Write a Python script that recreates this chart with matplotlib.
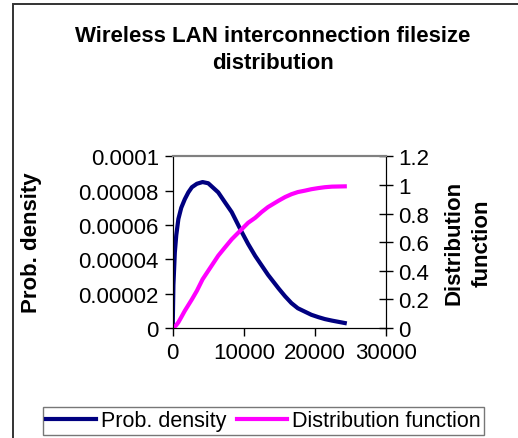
import matplotlib
matplotlib.use("Agg")
import matplotlib.pyplot as plt
from matplotlib.patches import Rectangle

plt.rcParams['font.family'] = ['Liberation Sans', 'DejaVu Sans']

# file size (bytes) and the two curves read along it
filesize = [0, 100, 300, 500, 800, 1200, 1700, 2200, 2700, 3400, 4200, 5000,
            6400, 7300, 8300, 9700, 10600, 11600, 12500, 13400, 14900, 15800,
            16700, 17600, 18600, 19500, 20500, 21400, 22400, 23300, 24200]
prob_density = [0, 2.5e-5, 4.4e-5, 5.4e-5, 6.35e-5, 7.0e-5, 7.5e-5, 7.9e-5,
                8.2e-5, 8.4e-5, 8.5e-5, 8.43e-5, 7.9e-5, 7.35e-5, 6.75e-5,
                5.6e-5, 4.9e-5, 4.2e-5, 3.65e-5, 3.1e-5, 2.3e-5, 1.85e-5,
                1.45e-5, 1.15e-5, 0.95e-5, 0.77e-5, 0.63e-5, 0.52e-5,
                0.43e-5, 0.36e-5, 0.29e-5]
distribution = [0, 0.003, 0.01, 0.02, 0.04, 0.075, 0.12, 0.16, 0.2, 0.26,
                0.34, 0.40, 0.505, 0.56, 0.62, 0.69, 0.735, 0.77, 0.81,
                0.845, 0.89, 0.915, 0.935, 0.95, 0.96, 0.97, 0.978, 0.984,
                0.988, 0.989, 0.99]

x_ticks = [0, 10000, 20000, 30000]
left_ticks = [0, 0.00002, 0.00004, 0.00006, 0.00008, 0.0001]
left_labels = ["0", "0.00002", "0.00004", "0.00006", "0.00008", "0.0001"]
right_ticks = [0, 0.2, 0.4, 0.6, 0.8, 1.0, 1.2]
right_labels = ["0", "0.2", "0.4", "0.6", "0.8", "1", "1.2"]

W, H = 518, 439
FS = 16
fig = plt.figure(figsize=(W / 100, H / 100), dpi=100)

# outer chart frame
fig.patches.append(Rectangle((13 / W, -0.05), 1.1, 1 - 5 / H + 0.05,
                             transform=fig.transFigure, fill=False,
                             edgecolor='#333333', linewidth=1.4))

ax = fig.add_axes([172.7 / W, 1 - 329 / H, (386 - 172.7) / W, (329 - 157.3) / H])
ax2 = ax.twinx()

l1, = ax.plot(filesize, prob_density, color='#000080', linewidth=3)
l2, = ax2.plot(filesize, distribution, color='#FF00FF', linewidth=3)

ax.set_xlim(0, 30000)
ax.set_ylim(0, 0.0001)
ax2.set_ylim(0, 1.2)
ax.set_xticks(x_ticks)
ax.set_xticklabels([str(t) for t in x_ticks])
ax.set_yticks(left_ticks)
ax.set_yticklabels(left_labels)
ax2.set_yticks(right_ticks)
ax2.set_yticklabels(right_labels)

ax.tick_params(axis='both', direction='out', length=6, width=1, labelsize=FS, pad=4)
ax2.tick_params(axis='y', direction='inout', length=10, width=1, labelsize=FS, pad=4)

for a in (ax, ax2):
    a.spines['top'].set_color('#808080')
    a.spines['top'].set_linewidth(1.5)
    a.spines['left'].set_color('black')
    a.spines['right'].set_color('black')
    a.spines['bottom'].set_color('black')

ax.set_ylabel('Prob. density', fontsize=FS, fontweight='bold', labelpad=26)
ax2.set_ylabel('Distribution\nfunction', fontsize=FS, fontweight='bold',
               labelpad=10, rotation=90, va='top', linespacing=1.45)

fig.text(273 / W, 1 - 50 / H, 'Wireless LAN interconnection filesize\ndistribution',
         ha='center', va='center', fontsize=FS, fontweight='bold',
         linespacing=1.4)

leg = fig.legend([l1, l2], ['Prob. density', 'Distribution function'],
                 loc='center', bbox_to_anchor=(263.5 / W, 1 - 422 / H), ncol=2,
                 fontsize=15.5, frameon=True, fancybox=False, handlelength=2.3,
                 handletextpad=0.25, columnspacing=0.5, borderpad=0.15,
                 borderaxespad=0)
leg.get_frame().set_edgecolor('#555555')
leg.get_frame().set_linewidth(1)

fig.savefig('out.png', dpi=100)
